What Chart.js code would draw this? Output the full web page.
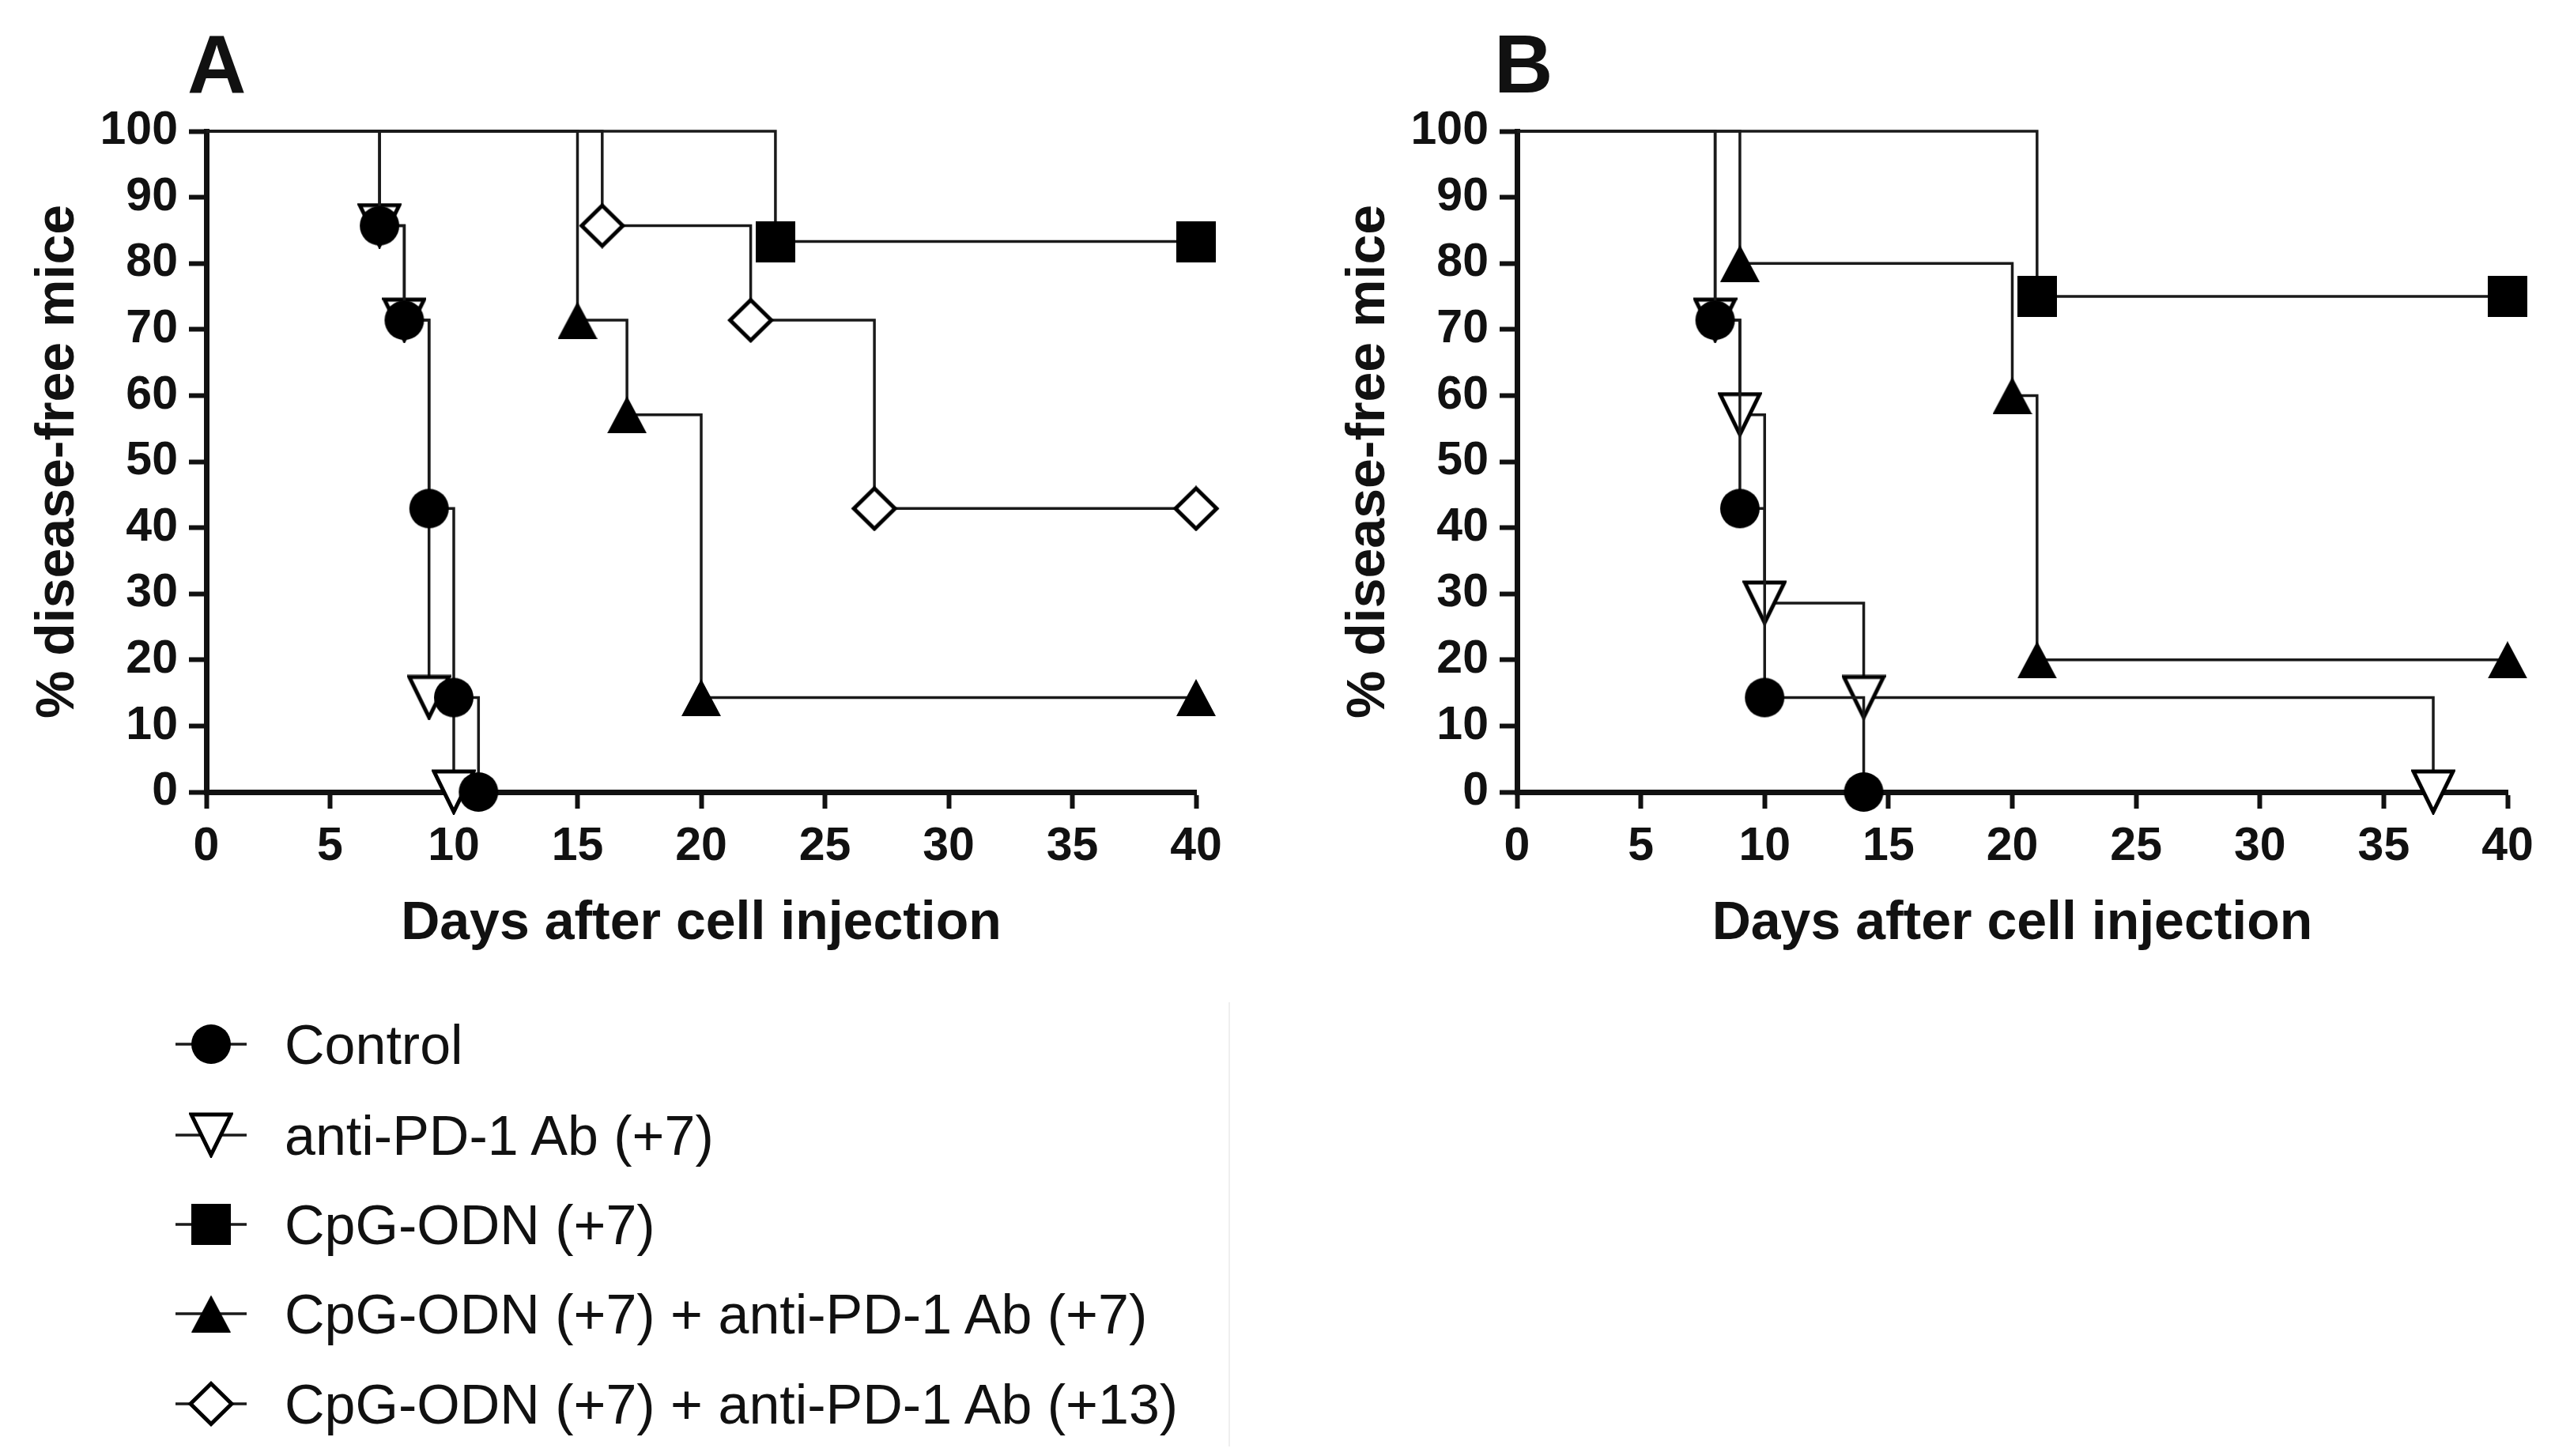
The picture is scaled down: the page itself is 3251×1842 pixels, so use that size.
<!DOCTYPE html>
<html>
<head>
<meta charset="utf-8">
<script src="https://cdn.jsdelivr.net/npm/chart.js@4.4.1/dist/chart.umd.min.js"></script>
<style>
  body { margin: 0; background: #fff; width: 3251px; height: 1842px; position: relative; overflow: hidden;
         font-family: "Liberation Sans", Arial, sans-serif; color: #111; }
  canvas.panel { position: absolute; top: 0; }
  .tag { position: absolute; top: 30px; font-weight: bold; font-size: 103px; line-height: 1; }
  .key { position: absolute; left: 222px; }
  .keytext { position: absolute; left: 360px; font-size: 70px; line-height: 1; white-space: nowrap; }
</style>
</head>
<body>
<div class="tag" style="left:237px">A</div>
<div class="tag" style="left:1890px">B</div>
<canvas id="panelA" class="panel" width="1625" height="1250" style="left:0"></canvas>
<canvas id="panelB" class="panel" width="1625" height="1250" style="left:1625px"></canvas>
<div id="legend"></div>
<div style="position:absolute;left:1554px;top:1268px;width:2px;height:562px;background:#efefef"></div>
<script>
var groups = ["Control", "anti-PD-1 Ab (+7)", "CpG-ODN (+7)",
              "CpG-ODN (+7) + anti-PD-1 Ab (+7)", "CpG-ODN (+7) + anti-PD-1 Ab (+13)"];
var xTicks = [0, 5, 10, 15, 20, 25, 30, 35, 40];
var yTicks = [0, 10, 20, 30, 40, 50, 60, 70, 80, 90, 100];

// panel A
var aControlDays = [0, 7, 8, 9, 10, 11];
var aControlPct  = [100, 85.7, 71.4, 42.9, 14.3, 0];
var aAntiDays    = [0, 7, 8, 9, 10];
var aAntiPct     = [100, 85.7, 71.4, 14.3, 0];
var aCpgDays     = [0, 23, 40];
var aCpgPct      = [100, 83.3, 83.3];
var aCombo7Days  = [0, 15, 17, 20, 40];
var aCombo7Pct   = [100, 71.4, 57.1, 14.3, 14.3];
var aCombo13Days = [0, 16, 22, 27, 40];
var aCombo13Pct  = [100, 85.7, 71.4, 42.9, 42.9];

// panel B
var bControlDays = [0, 8, 9, 10, 14];
var bControlPct  = [100, 71.4, 42.9, 14.3, 0];
var bAntiDays    = [0, 8, 9, 10, 14, 37];
var bAntiPct     = [100, 71.4, 57.1, 28.6, 14.3, 0];
var bCpgDays     = [0, 21, 40];
var bCpgPct      = [100, 75, 75];
var bCombo7Days  = [0, 9, 20, 21, 40];
var bCombo7Pct   = [100, 80, 60, 20, 20];

var ink = "#111";
var lineInk = "#1a1a1a";

// marker glyphs, drawn once and handed to chart.js as pointStyle images
function makeMarker(kind) {
  var c = document.createElement("canvas");
  var g;
  if (kind == "circle") {
    c.width = 52; c.height = 52; g = c.getContext("2d");
    g.beginPath(); g.arc(26, 26, 25, 0, Math.PI * 2);
    g.fillStyle = "#000"; g.fill();
  } else if (kind == "square") {
    c.width = 50; c.height = 52; g = c.getContext("2d");
    g.fillStyle = "#000"; g.fillRect(0, 0, 50, 52);
  } else if (kind == "up") {
    c.width = 50; c.height = 47; g = c.getContext("2d");
    g.beginPath(); g.moveTo(0, 47); g.lineTo(25, 0); g.lineTo(50, 47); g.closePath();
    g.fillStyle = "#000"; g.fill();
  } else if (kind == "down") {
    c.width = 56; c.height = 58; g = c.getContext("2d");
    g.beginPath(); g.moveTo(3, 3); g.lineTo(53, 3); g.lineTo(28, 54); g.closePath();
    g.fillStyle = "#fff"; g.fill();
    g.lineWidth = 5; g.lineJoin = "miter"; g.strokeStyle = "#000"; g.stroke();
  } else if (kind == "diamond") {
    c.width = 60; c.height = 58; g = c.getContext("2d");
    g.beginPath(); g.moveTo(30, 3.5); g.lineTo(56, 29); g.lineTo(30, 54.5); g.lineTo(4, 29); g.closePath();
    g.fillStyle = "#fff"; g.fill();
    g.lineWidth = 5; g.strokeStyle = "#000"; g.stroke();
  }
  return c;
}

var markers = {
  circle: makeMarker("circle"),
  down: makeMarker("down"),
  square: makeMarker("square"),
  up: makeMarker("up"),
  diamond: makeMarker("diamond")
};
var groupMarkers = ["circle", "down", "square", "up", "diamond"];

function series(label, days, pct, marker) {
  return {
    label: label,
    data: days.map(function (d, i) { return { x: d, y: pct[i] }; }),
    borderColor: lineInk,
    borderWidth: 3.5,
    stepped: true,
    fill: false,
    clip: false,
    pointStyle: markers[marker],
    pointRadius: function (ctx) { return ctx.dataIndex === 0 ? 0 : 25; },
    pointHoverRadius: function (ctx) { return ctx.dataIndex === 0 ? 0 : 25; }
  };
}

var family = "'Liberation Sans', Arial, sans-serif";
var tickFont = { family: family, size: 59, weight: "bold" };

function panelOptions(padLeft, padRight) {
  return {
    responsive: false,
    animation: false,
    events: [],
    layout: { padding: { left: padLeft, right: padRight, top: 166, bottom: 18 } },
    plugins: { legend: { display: false }, tooltip: { enabled: false } },
    scales: {
      x: {
        type: "linear", min: 0, max: 40,
        afterBuildTicks: function (s) { s.ticks = xTicks.map(function (v) { return { value: v }; }); },
        ticks: { color: ink, font: tickFont, padding: 13, maxRotation: 0, autoSkip: false },
        grid: { drawOnChartArea: false, tickLength: 21, tickWidth: 6, tickColor: ink },
        border: { color: ink, width: 7 },
        title: { display: true, text: "Days after cell injection", color: ink,
                 font: { family: family, size: 68, weight: "bold", lineHeight: 1.2 },
                 padding: { top: 0, bottom: 22 } },
        afterFit: function (s) { s.height = 230; }
      },
      y: {
        type: "linear", min: 0, max: 100,
        afterBuildTicks: function (s) { s.ticks = yTicks.map(function (v) { return { value: v }; }); },
        ticks: { color: ink, font: tickFont, padding: 14, autoSkip: false },
        grid: { drawOnChartArea: false, tickLength: 22, tickWidth: 6, tickColor: ink },
        border: { color: ink, width: 7 },
        title: { display: true, text: "% disease-free mice", color: ink,
                 font: { family: family, size: 68, weight: "bold", lineHeight: 1.2 },
                 padding: { top: 12, bottom: 0 } },
        afterFit: function (s) { s.width = 240; }
      }
    }
  };
}

new Chart(document.getElementById("panelA"), {
  type: "line",
  data: {
    datasets: [
      series(groups[0], aControlDays, aControlPct, "circle"),
      series(groups[1], aAntiDays, aAntiPct, "down"),
      series(groups[2], aCpgDays, aCpgPct, "square"),
      series(groups[3], aCombo7Days, aCombo7Pct, "up"),
      series(groups[4], aCombo13Days, aCombo13Pct, "diamond")
    ]
  },
  options: panelOptions(21, 112)
});

new Chart(document.getElementById("panelB"), {
  type: "line",
  data: {
    datasets: [
      series(groups[0], bControlDays, bControlPct, "circle"),
      series(groups[1], bAntiDays, bAntiPct, "down"),
      series(groups[2], bCpgDays, bCpgPct, "square"),
      series(groups[3], bCombo7Days, bCombo7Pct, "up")
    ]
  },
  options: panelOptions(54, 78)
});

// shared legend under panel A
var rowCentres = [1321, 1436, 1549, 1662, 1776];
var legend = document.getElementById("legend");
groups.forEach(function (name, i) {
  var key = document.createElement("canvas");
  key.className = "key";
  key.width = 90; key.height = 64;
  key.style.top = (rowCentres[i] - 32) + "px";
  var g = key.getContext("2d");
  g.strokeStyle = lineInk; g.lineWidth = 3.5;
  g.beginPath(); g.moveTo(0, 32); g.lineTo(90, 32); g.stroke();
  var m = markers[groupMarkers[i]];
  g.drawImage(m, 45 - m.width / 2, 32 - m.height / 2);
  legend.appendChild(key);

  var t = document.createElement("div");
  t.className = "keytext";
  t.style.top = (rowCentres[i] - 34) + "px";
  t.textContent = name;
  legend.appendChild(t);
});
</script>
</body>
</html>
